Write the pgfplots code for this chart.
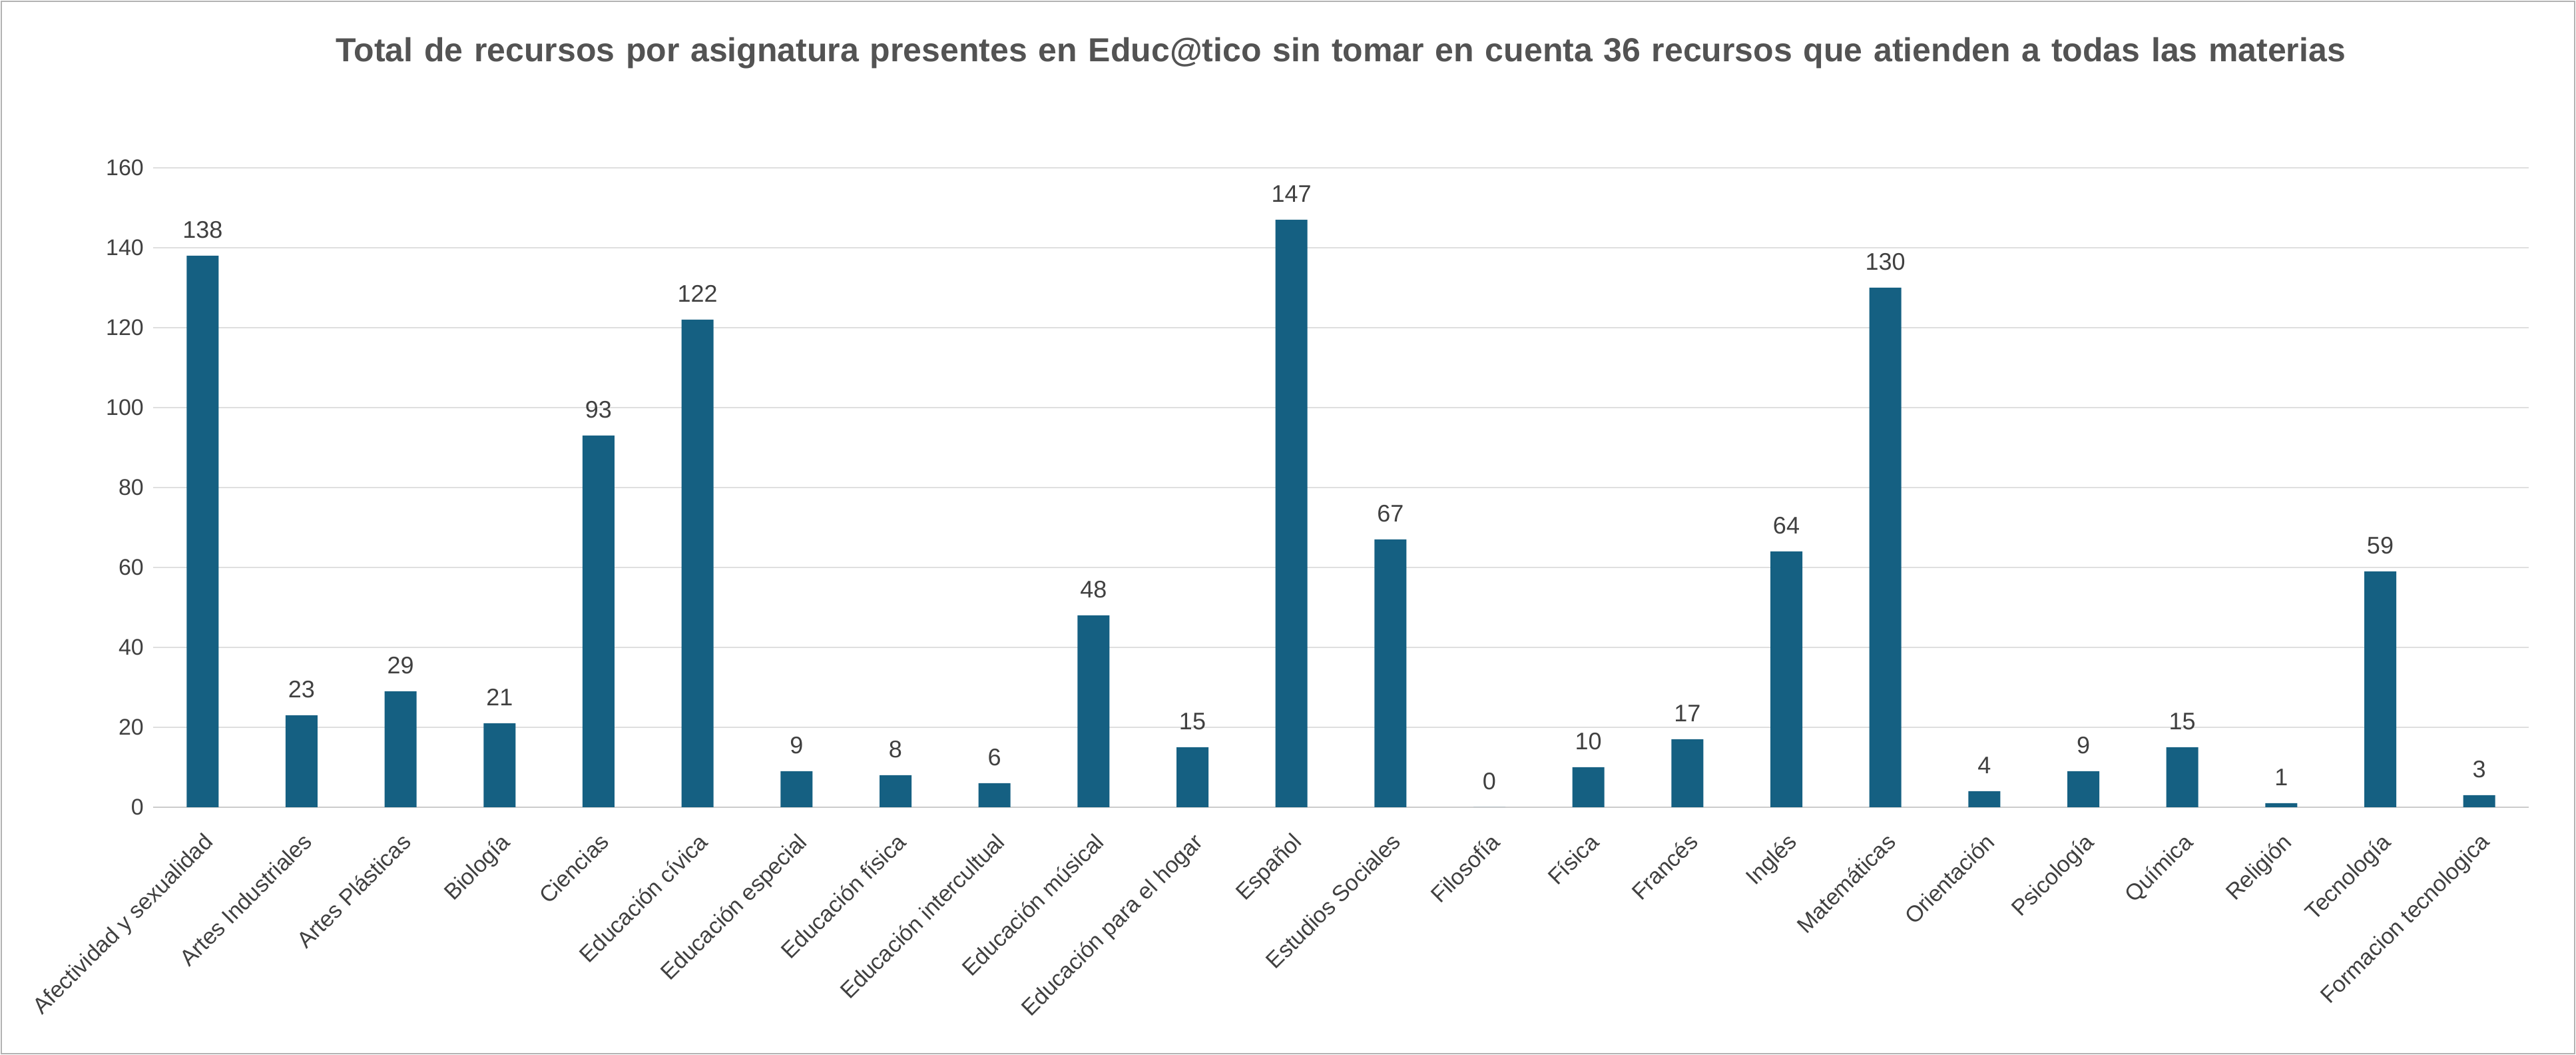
\documentclass[border=0pt]{standalone}
\usepackage{pgfplots}
\pgfplotsset{compat=1.18}
\usepackage{fontspec}
\setmainfont{Liberation Sans}
\definecolor{bar}{HTML}{156082}
\definecolor{txt}{HTML}{404040}
\begin{document}
\begin{tikzpicture}
\useasboundingbox (-57.5pt,-93pt) rectangle (909.75pt,303pt);
\draw[gray!60,line width=0.6pt] (-57pt,-92.5pt) rectangle (909.25pt,302.5pt);
\node[font=\bfseries\fontsize{12.5}{17}\selectfont,text=txt!90,align=center,text width=820pt] at (446pt,283pt) {Total de recursos por asignatura presentes en Educ@tico sin tomar en cuenta 36 recursos que atienden a todas las materias};
\begin{axis}[at={(0,0)},anchor=south west,scale only axis,width=892pt,height=240pt,
 ymin=0,ymax=160,ytick={0,20,...,160},xmin=-0.5,xmax=23.5,
 ybar,bar width=12pt,
 axis x line*=bottom,axis y line*=left,
 y axis line style={draw=none},ytick style={draw=none},
 ymajorgrids,grid style={gray!25},
 x axis line style={gray!40,-},
 xtick=data,xtick style={draw=none},
 /pgf/number format/assume math mode=true,
 yticklabel style={font=\fontsize{8.5}{10}\selectfont,text=txt},
 xticklabels={Afectividad y sexualidad,Artes Industriales,Artes Plásticas,Biología,Ciencias,Educación cívica,Educación especial,Educación física,Educación intercultual,Educación músical,Educación para el hogar,Español,Estudios Sociales,Filosofía,Física,Francés,Inglés,Matemáticas,Orientación,Psicología,Química,Religión,Tecnología,Formacion tecnologica},
 xticklabel style={rotate=45,anchor=north east,font=\fontsize{8.5}{10}\selectfont,text=txt},
 nodes near coords,nodes near coords style={font=\fontsize{9}{10}\selectfont,text=txt,yshift=3pt},
 clip=false]
\addplot[fill=bar,draw=none] coordinates {(0,138)(1,23)(2,29)(3,21)(4,93)(5,122)(6,9)(7,8)(8,6)(9,48)(10,15)(11,147)(12,67)(13,0)(14,10)(15,17)(16,64)(17,130)(18,4)(19,9)(20,15)(21,1)(22,59)(23,3)};
\end{axis}
\end{tikzpicture}
\end{document}
